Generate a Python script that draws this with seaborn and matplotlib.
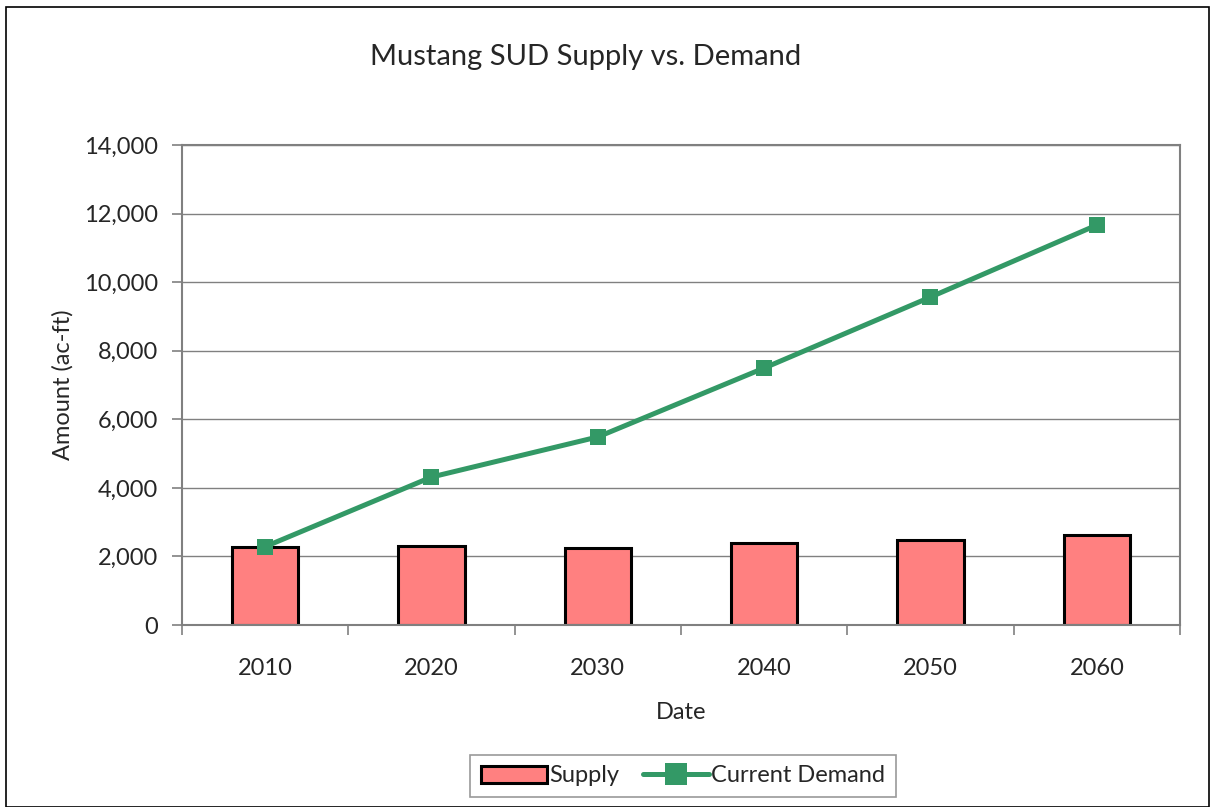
import numpy as np
import pandas as pd
import seaborn as sns
import matplotlib.pyplot as plt
from matplotlib.patches import Rectangle
from matplotlib.ticker import FuncFormatter, FixedLocator

years = ['2010', '2020', '2030', '2040', '2050', '2060']
supply = [2265, 2295, 2235, 2400, 2480, 2625]
demand = [2285, 4315, 5485, 7495, 9565, 11665]

df = pd.DataFrame({'Date': years, 'Supply': supply, 'Demand': demand})

sns.set_style('white')
plt.rcParams['font.family'] = ['Lato', 'DejaVu Sans']

fig = plt.figure(figsize=(12.11, 8.07), dpi=100)
ax = fig.add_axes([182 / 1211, 1 - 625 / 807, 998 / 1211, 480 / 807])

sns.barplot(data=df, x='Date', y='Supply', color='#FF8080', saturation=1,
            width=0.4, edgecolor='black', linewidth=2.2, ax=ax, label='Supply')
sns.lineplot(x=np.arange(len(years)), y=demand, color='#339966', linewidth=3.6,
             marker='s', markersize=12, markeredgewidth=0, ax=ax, label='Current Demand')

ax.set_xlim(-0.5, len(years) - 0.5)
ax.set_ylim(0, 14000)
ax.set_yticks(np.arange(0, 14001, 2000))
ax.yaxis.set_major_formatter(FuncFormatter(lambda v, p: f'{int(v):,}'))
ax.grid(axis='y', color='#808080', linewidth=1)
ax.set_axisbelow(True)
for s in ax.spines.values():
    s.set_color('#808080')
    s.set_linewidth(1.5)

ax.set_xticks(np.arange(len(years)))
ax.set_xticklabels(years)
ax.tick_params(axis='x', which='major', length=0, labelsize=17, pad=24)
ax.xaxis.set_minor_locator(FixedLocator(np.arange(-0.5, len(years), 1)))
ax.tick_params(axis='x', which='minor', length=7, color='#808080', width=1.2, bottom=True)
ax.tick_params(axis='y', length=7, color='#808080', width=1.2, left=True, labelsize=17, pad=10)

ax.set_xlabel('Date', fontsize=17, labelpad=16)
ax.set_ylabel('Amount (ac-ft)', fontsize=17, labelpad=8)

fig.text(586 / 1211, 1 - 57 / 807, 'Mustang SUD Supply vs. Demand', fontsize=21,
         ha='center', va='center')

handles, labels = ax.get_legend_handles_labels()
order = [labels.index('Supply'), labels.index('Current Demand')]
leg = ax.legend([handles[i] for i in order], [labels[i] for i in order],
                loc='center', bbox_to_anchor=(683 / 1211, 1 - 776 / 807),
                bbox_transform=fig.transFigure, ncol=2, frameon=True, fancybox=False,
                fontsize=17, handlelength=2.8, handletextpad=0.1, columnspacing=1.0,
                borderpad=0.45, markerscale=1.3)
leg.get_frame().set_edgecolor('#808080')
leg.get_frame().set_linewidth(1.2)

fig.patches.append(Rectangle((6 / 1211, 0), 1203 / 1211, 1 - 7 / 807,
                             transform=fig.transFigure, fill=False,
                             edgecolor='black', linewidth=1.2))

fig.savefig('out.png', dpi=100)
